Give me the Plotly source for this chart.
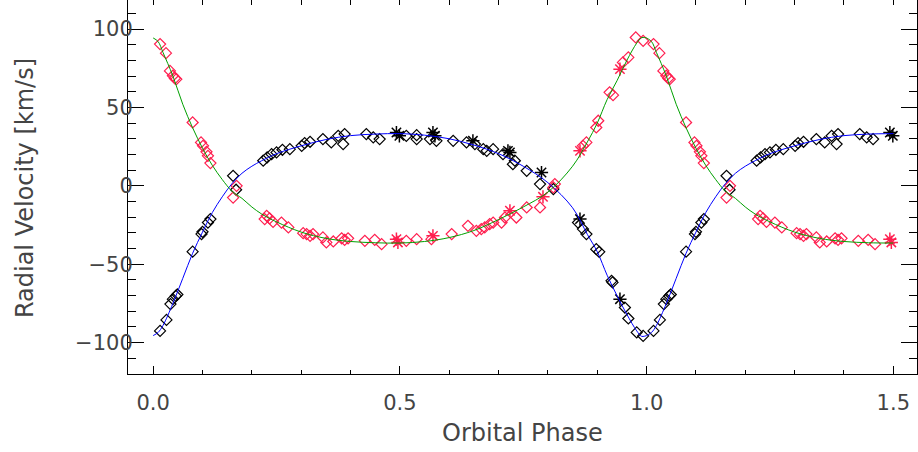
import plotly.graph_objects as go

# ---- model curves, phase 0..1 ----
phase_model = [0.00, 0.01, 0.02, 0.04, 0.06, 0.08, 0.10, 0.12, 0.14, 0.16, 0.18, 0.20,
               0.22, 0.25, 0.30, 0.35, 0.40, 0.45, 0.50, 0.55, 0.60, 0.65, 0.70, 0.75,
               0.80, 0.85, 0.88, 0.90, 0.92, 0.94, 0.96, 0.98, 0.99, 1.00]
rv_primary_model = [-95.5, -93.5, -89.0, -75.0, -59.0, -43.0, -29.5, -17.0, -7.0, 1.5, 8.0, 12.5,
                    16.0, 20.5, 25.5, 29.5, 32.0, 33.0, 33.3, 32.3, 30.0, 26.0, 20.5, 12.5,
                    2.0, -14.0, -31.0, -42.0, -57.0, -70.0, -82.0, -92.5, -96.0, -95.5]
rv_secondary_model = [94.3, 92.0, 85.0, 70.0, 52.0, 37.0, 24.0, 13.0, 4.0, -3.5, -8.0, -13.5,
                      -18.0, -23.0, -29.5, -33.5, -35.5, -36.3, -36.5, -35.5, -33.0, -28.5, -21.5, -13.5,
                      -4.0, 12.5, 28.0, 40.0, 55.0, 67.0, 80.0, 91.0, 94.5, 94.3]

# ---- primary (black) diamonds ----
phase_p = [0.014, 0.027, 0.035, 0.040, 0.046, 0.049, 0.080, 0.098, 0.100, 0.111, 0.116,
           0.162, 0.168, 0.223, 0.231, 0.240, 0.250, 0.262, 0.277, 0.301, 0.307, 0.318,
           0.344, 0.361, 0.375, 0.385, 0.388, 0.432, 0.446, 0.459, 0.513, 0.534, 0.534,
           0.561, 0.574, 0.608, 0.635, 0.652, 0.669, 0.676, 0.689, 0.709, 0.729, 0.733,
           0.757, 0.784, 0.811, 0.861, 0.871, 0.878, 0.898, 0.904, 0.929, 0.931, 0.956,
           0.963, 0.980, 0.993]
rv_p = [-92.5, -85.5, -75.4, -72.3, -70.2, -69.3, -42.0, -30.8, -29.3, -23.4, -21.2,
        6.4, -2.5, 16.0, 18.1, 20.2, 21.3, 23.0, 23.4, 25.5, 27.2, 28.1,
        29.8, 27.7, 31.9, 26.6, 33.0, 33.0, 30.9, 29.8, 31.9, 32.3, 29.8,
        29.8, 28.7, 28.7, 27.7, 26.6, 23.4, 22.3, 23.4, 20.2, 13.8, 16.0,
        9.6, 1.1, -2.1, -23.4, -27.6, -30.8, -40.4, -42.1, -60.6, -61.6, -77.6,
        -84.6, -93.5, -95.7]

# ---- primary (black) asterisks ----
phase_p_ast = [0.493, 0.499, 0.567, 0.571, 0.648, 0.719, 0.723, 0.787, 0.865, 0.946]
rv_p_ast = [34.0, 31.9, 34.0, 31.9, 28.7, 22.3, 21.3, 8.5, -21.2, -72.3]

# ---- secondary (red) diamonds ----
phase_s = [0.014, 0.026, 0.034, 0.040, 0.044, 0.047, 0.080, 0.097, 0.101, 0.108, 0.111,
           0.116, 0.162, 0.169, 0.226, 0.230, 0.236, 0.243, 0.260, 0.274, 0.304, 0.311,
           0.318, 0.324, 0.344, 0.351, 0.365, 0.382, 0.388, 0.395, 0.429, 0.449, 0.463,
           0.513, 0.534, 0.564, 0.605, 0.638, 0.655, 0.665, 0.672, 0.682, 0.689, 0.706,
           0.713, 0.736, 0.757, 0.784, 0.811, 0.814, 0.871, 0.878, 0.898, 0.902, 0.925,
           0.932, 0.952, 0.963, 0.978, 0.993]
rv_s = [90.4, 84.6, 73.3, 70.2, 68.5, 68.0, 40.4, 27.7, 25.5, 21.7, 19.1,
        14.5, -7.5, 0.0, -21.2, -19.1, -20.8, -23.0, -23.4, -26.5, -30.2, -30.8,
        -31.9, -30.8, -32.9, -36.1, -35.5, -33.5, -34.4, -33.5, -35.1, -34.4, -37.2,
        -35.1, -34.0, -34.0, -30.8, -25.5, -28.7, -27.6, -26.5, -24.4, -23.4, -23.4,
        -20.2, -20.2, -13.8, -13.8, -1.0, 1.1, 25.5, 27.7, 37.2, 41.5, 59.6,
        57.8, 78.7, 81.9, 94.6, 92.5]

# ---- secondary (red) asterisks ----
phase_s_ast = [0.493, 0.496, 0.567, 0.723, 0.790, 0.865, 0.946]
rv_s_ast = [-34.0, -36.1, -31.9, -15.9, -7.0, 22.3, 74.4]

x_title = "Orbital Phase"
y_title = "Radial Velocity [km/s]"

x_range = [-0.051, 1.548]
y_range = [-120, 118.5]

RED = "#ff1f4f"
FONT = "DejaVu Sans"
TXT = "#444444"


def extend(ph, rv):
    """Repeat the first half cycle after phase 1 (plot shows 1.5 cycles)."""
    ph2 = list(ph) + [p + 1 for p in ph if p <= 0.5]
    rv2 = list(rv) + [v for p, v in zip(ph, rv) if p <= 0.5]
    return ph2, rv2


fig = go.Figure()

x, y = extend(phase_p, rv_p)
fig.add_trace(go.Scatter(x=x, y=y, mode="markers",
                         marker=dict(symbol="diamond-open", size=8.5, color="black",
                                     line=dict(width=1.2, color="black")),
                         showlegend=False))
x, y = extend(phase_s, rv_s)
fig.add_trace(go.Scatter(x=x, y=y, mode="markers",
                         marker=dict(symbol="diamond-open", size=8.5, color=RED,
                                     line=dict(width=1.2, color=RED)),
                         showlegend=False))
x, y = extend(phase_p_ast, rv_p_ast)
fig.add_trace(go.Scatter(x=x, y=y, mode="markers",
                         marker=dict(symbol="asterisk-open", size=11, color="black",
                                     line=dict(width=1.5, color="black")),
                         showlegend=False))
x, y = extend(phase_s_ast, rv_s_ast)
fig.add_trace(go.Scatter(x=x, y=y, mode="markers",
                         marker=dict(symbol="asterisk-open", size=11, color=RED,
                                     line=dict(width=1.5, color=RED)),
                         showlegend=False))

x, y = extend(phase_model, rv_primary_model)
fig.add_trace(go.Scatter(x=x, y=y, mode="lines", line=dict(color="#0000ff", width=1, shape="spline"),
                         showlegend=False))
x, y = extend(phase_model, rv_secondary_model)
fig.add_trace(go.Scatter(x=x, y=y, mode="lines", line=dict(color="#00a000", width=1, shape="spline"),
                         showlegend=False))

# empty trace to carry the top tick axis
fig.add_trace(go.Scatter(x=[], y=[], xaxis="x2", showlegend=False))

fig.update_layout(
    width=918, height=452,
    margin=dict(l=128, r=1, t=0, b=78),
    paper_bgcolor="white", plot_bgcolor="white",
    font=dict(family=FONT, color=TXT),
    xaxis=dict(range=x_range, tickmode="linear", tick0=0, dtick=0.5, tickformat=".1f",
               ticks="inside", ticklen=8, tickcolor="black", tickwidth=1,
               showline=True, linecolor="black", linewidth=1, mirror=False,
               showgrid=False, zeroline=False, ticklabelstandoff=10,
               tickfont=dict(size=21, family=FONT, color=TXT),
               minor=dict(tickmode="linear", tick0=0, dtick=0.1, ticks="inside",
                          ticklen=4, tickcolor="black", showgrid=False)),
    xaxis2=dict(range=x_range, overlaying="x", side="top", anchor="y",
                tickmode="linear", tick0=0, dtick=0.1, ticks="inside", ticklen=5,
                tickcolor="black", showticklabels=False, showline=False,
                showgrid=False, zeroline=False),
    yaxis=dict(range=y_range, tickmode="linear", tick0=0, dtick=50,
               ticks="inside", ticklen=16, tickcolor="black", tickwidth=1,
               showline=True, linecolor="black", linewidth=1, mirror="ticks",
               showgrid=False, zeroline=False, ticklabelstandoff=-10,
               tickfont=dict(size=21, family=FONT, color=TXT),
               minor=dict(tickmode="linear", tick0=0, dtick=10, ticks="inside",
                          ticklen=8, tickcolor="black", showgrid=False)),
    annotations=[
        dict(text=x_title, xref="paper", yref="paper", x=0.5, y=0, xanchor="center",
             yanchor="middle", yshift=-59, showarrow=False,
             font=dict(size=24, family=FONT, color=TXT)),
        dict(text=y_title, xref="paper", yref="paper", x=0, y=0.497, xanchor="center",
             yanchor="middle", xshift=-103, textangle=-90, showarrow=False,
             font=dict(size=24, family=FONT, color=TXT)),
    ],
)

fig.write_html("out.html", config={"displayModeBar": False},
               post_script="document.body.style.margin='0px';")
